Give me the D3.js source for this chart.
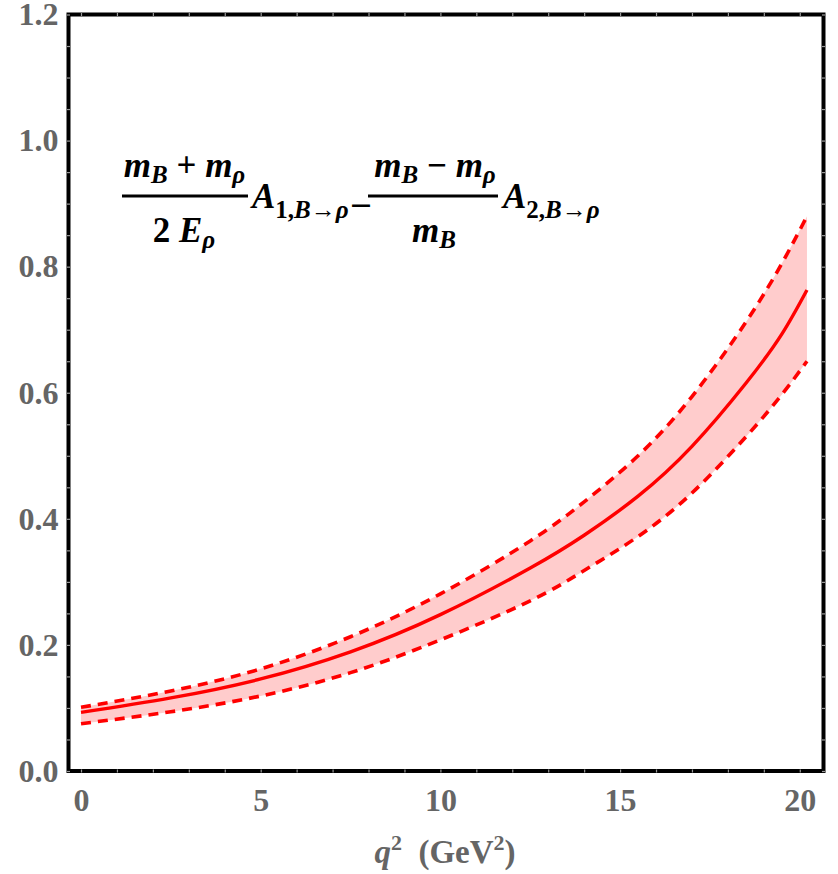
<!DOCTYPE html>
<html>
<head>
<meta charset="utf-8">
<script src="https://cdn.jsdelivr.net/npm/d3@7"></script>
<style>
    body { margin: 0; background: #fff; }
    svg text { font-family: "Liberation Serif", "Times New Roman", Times, Tinos, "DejaVu Serif", "Noto Serif", serif; }
</style>
</head>
<body>
<div id="chart"></div>
<script>
// values
const qValues   = [0, 2.5, 5, 7.5, 10, 12.5, 14, 15.5, 17, 18.5, 19.5, 20.2];
const central   = [0.093, 0.116, 0.146, 0.189, 0.248, 0.322, 0.374, 0.436, 0.515, 0.615, 0.693, 0.763];
const upperEdge = [0.101, 0.127, 0.162, 0.213, 0.281, 0.365, 0.427, 0.500, 0.594, 0.712, 0.805, 0.880];
const lowerEdge = [0.075, 0.094, 0.119, 0.156, 0.208, 0.270, 0.318, 0.372, 0.441, 0.530, 0.597, 0.650];

const xTicks = [0, 5, 10, 15, 20];
const yTicks = [0, 0.2, 0.4, 0.6, 0.8, 1.0, 1.2];
const xMinor = d3.range(0, 21, 1);
const yMinor = d3.range(0, 1.2001, 0.05);

const width = 838, height = 874;
const frame = { left: 68.5, right: 823.5, top: 14.5, bottom: 771 };
const labelGrey = "#656565";

const svg = d3.select("#chart").append("svg")
    .attr("width", width)
    .attr("height", height);

const x = d3.scaleLinear().domain([-0.348, 20.66]).range([frame.left, frame.right]);
const y = d3.scaleLinear().domain([0, 1.2]).range([frame.bottom, frame.top]);

const rows = qValues.map((q, i) => ({ q, c: central[i], hi: upperEdge[i], lo: lowerEdge[i] }));

// band between the two dashed edges
const area = d3.area()
    .x(d => x(d.q))
    .y0(d => y(d.lo))
    .y1(d => y(d.hi))
    .curve(d3.curveNatural);

svg.append("path")
    .datum(rows)
    .attr("fill", "#ffcccc")
    .attr("d", area);

const lineOf = key => d3.line()
    .x(d => x(d.q))
    .y(d => y(d[key]))
    .curve(d3.curveNatural);

["hi", "lo"].forEach(k => {
    svg.append("path")
        .datum(rows)
        .attr("fill", "none")
        .attr("stroke", "#ff0000")
        .attr("stroke-width", 3.6)
        .attr("stroke-dasharray", "10,7")
        .attr("d", lineOf(k));
});

svg.append("path")
    .datum(rows)
    .attr("fill", "none")
    .attr("stroke", "#ff0000")
    .attr("stroke-width", 3.4)
    .attr("d", lineOf("c"));

// frame
svg.append("rect")
    .attr("x", frame.left)
    .attr("y", frame.top)
    .attr("width", frame.right - frame.left)
    .attr("height", frame.bottom - frame.top)
    .attr("fill", "none")
    .attr("stroke", "#000")
    .attr("stroke-width", 4);

// small grey ticks sitting on the frame
function tickAxis(axis, transform) {
    const g = svg.append("g")
        .attr("transform", transform)
        .call(axis.tickFormat("").tickSizeOuter(0));
    g.select(".domain").remove();
    g.selectAll("text").remove();
    g.selectAll(".tick line").attr("stroke", "#9a9a9a").attr("stroke-width", 1.2);
}
tickAxis(d3.axisLeft(y).tickValues(yMinor).tickSize(-3), `translate(${frame.left - 1.5},0)`);
tickAxis(d3.axisRight(y).tickValues(yMinor).tickSize(-3), `translate(${frame.right + 1.5},0)`);
tickAxis(d3.axisBottom(x).tickValues(xMinor).tickSize(-3), `translate(0,${frame.bottom + 1.5})`);
tickAxis(d3.axisTop(x).tickValues(xMinor).tickSize(-3), `translate(0,${frame.top - 1.5})`);

// tick labels
const yAxis = svg.append("g")
    .attr("transform", `translate(${frame.left},0)`)
    .call(d3.axisLeft(y).tickValues(yTicks).tickFormat(d3.format(".1f")).tickSize(0).tickPadding(10));
const xAxis = svg.append("g")
    .attr("transform", `translate(0,${frame.bottom})`)
    .call(d3.axisBottom(x).tickValues(xTicks).tickFormat(d3.format("d")).tickSize(0).tickPadding(17));

[yAxis, xAxis].forEach(g => {
    g.select(".domain").remove();
    g.attr("font-family", null);
    g.selectAll("text")
        .attr("fill", labelGrey)
        .style("font-weight", "bold")
        .style("font-size", "32px");
});

// axis title  q^2 (GeV^2)
const title = svg.append("text")
    .attr("x", (frame.left + frame.right) / 2 - 1)
    .attr("y", 863)
    .attr("text-anchor", "middle")
    .attr("fill", labelGrey)
    .style("font-weight", "bold")
    .style("font-size", "33px");
title.append("tspan").style("font-style", "italic").text("q");
title.append("tspan").attr("dy", -13).style("font-size", "22px").text("2");
title.append("tspan").attr("dy", 13).text("\u00a0\u00a0(GeV");
title.append("tspan").attr("dy", -13).style("font-size", "22px").text("2");
title.append("tspan").attr("dy", 13).text(")");

// formula label
function mathText(px, py, parts, anchor) {
    const t = svg.append("text")
        .attr("x", px)
        .attr("y", py)
        .attr("text-anchor", anchor)
        .attr("fill", "#000")
        .style("font-weight", "bold")
        .style("font-size", "35px");
    let shift = 0;
    parts.forEach(p => {
        const drop = p.sub || 0;
        const s = t.append("tspan")
            .attr("dy", drop - shift)
            .style("font-style", p.it ? "italic" : "normal")
            .text(p.t);
        if (drop) s.style("font-size", "25px");
        shift = drop;
    });
    return t;
}

function fractionBar(x0, x1, yy) {
    svg.append("line")
        .attr("x1", x0).attr("x2", x1)
        .attr("y1", yy).attr("y2", yy)
        .attr("stroke", "#000")
        .attr("stroke-width", 3);
}

mathText(184.5, 177, [
    { t: "m", it: true }, { t: "B", it: true, sub: 6 },
    { t: " + " }, { t: "m", it: true }, { t: "\u03c1", it: true, sub: 6 }
], "middle");
fractionBar(122, 248, 196);
mathText(184, 242, [
    { t: "2 " }, { t: "E", it: true }, { t: "\u03c1", it: true, sub: 6 }
], "middle");
mathText(252, 208, [
    { t: "A", it: true }, { t: "1,", sub: 10 }, { t: "B", it: true, sub: 10 },
    { t: "\u2192", sub: 10 }, { t: "\u03c1", it: true, sub: 10 }
], "start");
mathText(361, 214, [{ t: "\u2013" }], "middle");

mathText(435, 177, [
    { t: "m", it: true }, { t: "B", it: true, sub: 6 },
    { t: " \u2212 " }, { t: "m", it: true }, { t: "\u03c1", it: true, sub: 6 }
], "middle");
fractionBar(368, 498, 196);
mathText(434, 242, [
    { t: "m", it: true }, { t: "B", it: true, sub: 6 }
], "middle");
mathText(503, 208, [
    { t: "A", it: true }, { t: "2,", sub: 10 }, { t: "B", it: true, sub: 10 },
    { t: "\u2192", sub: 10 }, { t: "\u03c1", it: true, sub: 10 }
], "start");
</script>
</body>
</html>
